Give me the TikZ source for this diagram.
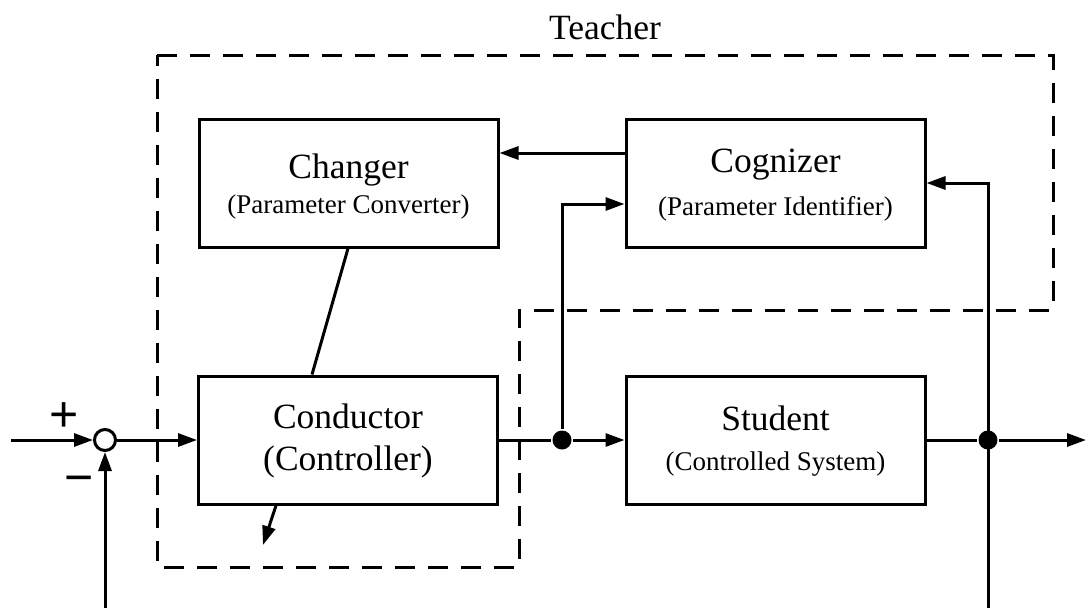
\documentclass[tikz,border=0pt]{standalone}
\usepackage{fontspec}
\setmainfont{Liberation Serif}
\newfontfamily\signfont{Liberation Sans}
\usetikzlibrary{arrows.meta}
\begin{document}
\begin{tikzpicture}[x=1pt,y=-1pt,
  line width=3pt,
  box/.style={draw, line width=3pt, minimum width=299pt, minimum height=128pt, inner sep=0pt},
  big/.style={font=\fontsize{35.5}{40}\selectfont, inner sep=0pt, anchor=base},
  small/.style={font=\fontsize{27}{30}\selectfont, inner sep=0pt, anchor=base},
  sign/.style={font=\signfont\fontsize{50}{54}\selectfont, inner sep=0pt, anchor=base},
  arr/.style={-{Triangle[length=19pt,width=13pt]}},
  dot/.style={circle, fill, inner sep=0pt, minimum size=19pt},
  sum/.style={circle, draw, line width=3pt, inner sep=0pt, minimum size=21pt},
  teach/.style={dash pattern=on 20pt off 13pt, line width=3pt}
]
\useasboundingbox (0,0) rectangle (1086,608);

% teacher region
\draw[teach] (157,55) -- (1053,55) -- (1053,310) -- (519,310) -- (519,567) -- (157,567) -- cycle;
\node[big] (tTeacher) at (605,39) {Teacher};

% blocks
\node[box] (changer) at (348.5,183) {};
\node[box] (cognizer) at (775.5,183) {};
\node[box] (conductor) at (348,440) {};
\node[box] (student) at (775.5,440) {};

\node[big] (tChanger) at (348.5,178) {Changer};
\node[small] (tChanger2) at (348.5,213) {(Parameter Converter)};
\node[big] (tCognizer) at (775.5,172) {Cognizer};
\node[small] (tCognizer2) at (775.5,215) {(Parameter Identifier)};
\node[big] (tConductor) at (348,428) {Conductor};
\node[big] (tConductor2) at (348,470) {(Controller)};
\node[big] (tStudent) at (775.5,430) {Student};
\node[small] (tStudent2) at (775.5,470) {(Controlled System)};

% junctions
\node[sum] (sum) at (105,440) {};
\node[dot] (d1) at (562,440) {};
\node[dot] (d2) at (988,440) {};
\node[sign] (plus) at (64,431.5) {+};
\node[sign] (minus) at (79.5,494) {−};

% free ends
\coordinate (in) at (11,440);
\coordinate (out) at (1086,440);
\coordinate (fb1) at (105,608);
\coordinate (fb2) at (988,608);
\coordinate (br1) at (562,204);
\coordinate (br2) at (988,183);
\coordinate (cc) at (0,153);
\coordinate (adj) at (263,545);

% connectors
\draw[arr] (in) -- (sum.west);
\draw[arr] (sum.east) -- (conductor.west);
\draw[arr] (fb1) -- (sum.south);
\draw (conductor.east) -- (d1);
\draw[arr] (d1) -- (student.west);
\draw[arr] (d1) -- (br1) -- (cognizer.west |- br1);
\draw (student.east) -- (d2);
\draw[arr] (d2) -- (out);
\draw[arr] (fb2) -- (br2) -- (cognizer.east |- br2);
\draw[arr] (cognizer.west |- cc) -- (changer.east |- cc);
\draw (348,0 |- changer.south) -- (312,0 |- conductor.north);
\draw[arr] (276,0 |- conductor.south) -- (adj);
\end{tikzpicture}
\end{document}
